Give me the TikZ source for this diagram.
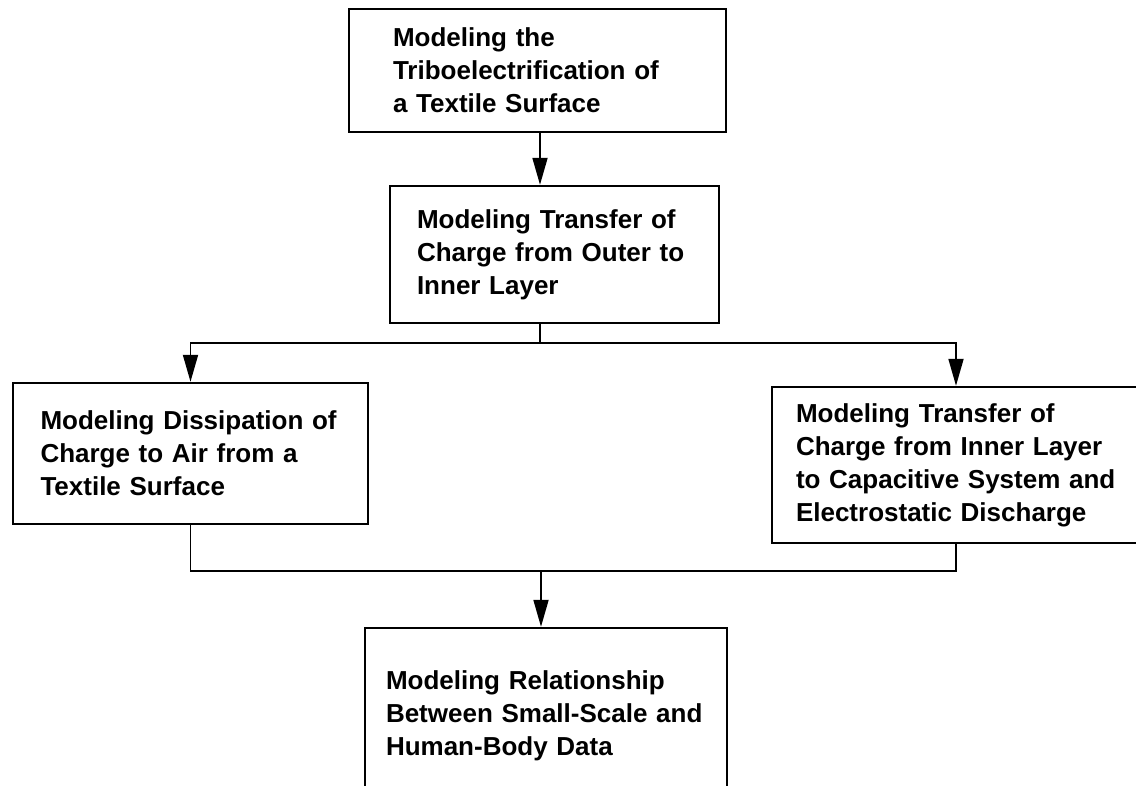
\documentclass[tikz,border=0pt]{standalone}
\usepackage{fontspec}
\setmainfont{Liberation Sans}
\usetikzlibrary{arrows.meta,positioning}

\begin{document}
\begin{tikzpicture}[x=1pt,y=-1pt,
  stage/.style={draw,line width=2.4pt,align=left,inner sep=0pt,
    font=\fontsize{26}{33}\selectfont\bfseries},
  flow/.style={line width=1.8pt},
  arr/.style={flow,-{Triangle[length=27pt,width=15pt]}}]
\clip (0,0) rectangle (1136,786);
\node[stage,minimum width=377pt,minimum height=123pt,text width=289pt] (tribo) at (537.5,70.5)
  {Modeling the\\Triboelectrification of\\a Textile Surface};
\node[stage,minimum width=329pt,minimum height=137pt,text width=275pt] (outer) at (554.5,254.5)
  {Modeling Transfer of\\Charge from Outer to\\Inner Layer};
\node[stage,minimum width=355pt,minimum height=141pt,text width=300pt] (air) at (190.5,453.5)
  {Modeling Dissipation of\\Charge to Air from a\\Textile Surface};
\node[stage,minimum width=368pt,minimum height=156pt,text width=320pt] (cap) at (956,465)
  {Modeling Transfer of\\Charge from Inner Layer\\to Capacitive System and\\Electrostatic Discharge};
\node[stage,minimum width=362pt,minimum height=176pt,text width=320pt] (body) at (546,716)
  {Modeling Relationship\\Between Small-Scale and\\Human-Body Data};
\coordinate (split) at (540,343);
\coordinate (merge) at (541,571);
% arrows
\draw[arr] (tribo.south -| split) -- (split |- outer.north);
\draw[flow] (split |- outer.south) -- (split);
\draw[arr] (split) -| (air.north);
\draw[arr] (split) -| (cap.north);
\draw[flow] (air.south) |- (merge) -| (cap.south);
\draw[arr] (merge) -- (merge |- body.north);
\end{tikzpicture}
\end{document}
